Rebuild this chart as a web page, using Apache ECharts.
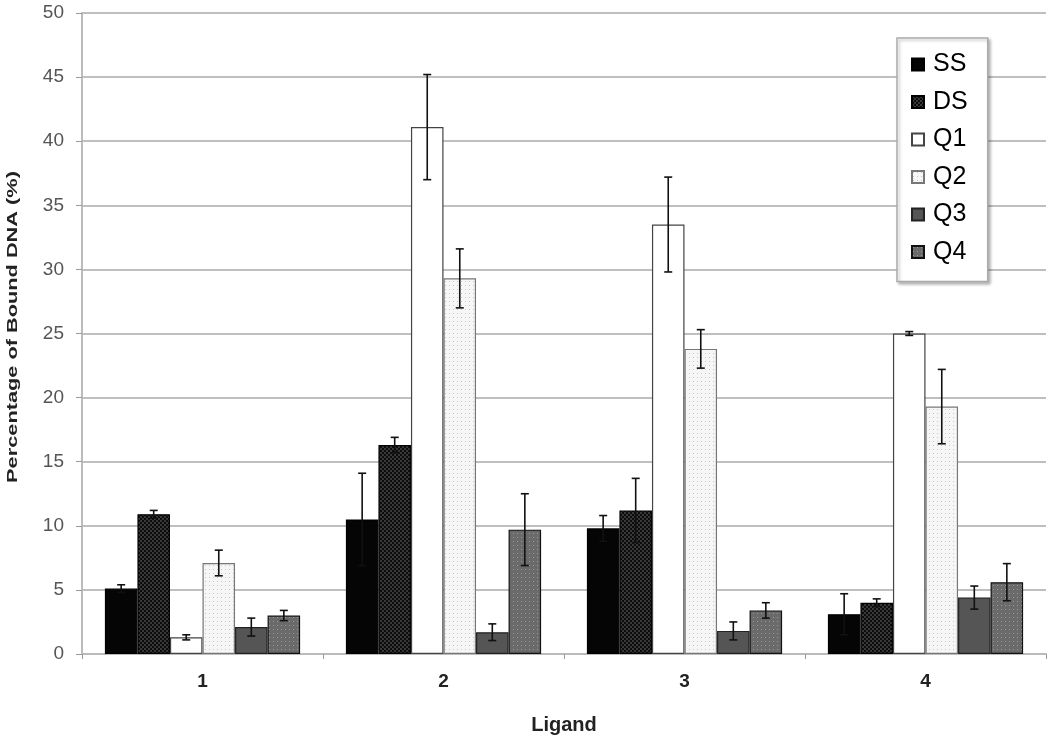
<!DOCTYPE html>
<html>
<head>
<meta charset="utf-8">
<script src="https://cdn.jsdelivr.net/npm/echarts@6/dist/echarts.min.js"></script>
<style>html,body{margin:0;padding:0;background:#fff}#main{width:1050px;height:744px}</style>
</head>
<body>
<div id="main"></div>
<script>
const categories = ['1', '2', '3', '4'];
const seriesNames = ['SS', 'DS', 'Q1', 'Q2', 'Q3', 'Q4'];
const ssValues = [5.1, 10.5, 9.8, 3.1];
const ssErrors = [0.3, 3.6, 1.0, 1.6];
const dsValues = [10.9, 16.3, 11.2, 4.0];
const dsErrors = [0.3, 0.6, 2.5, 0.3];
const q1Values = [1.3, 41.1, 33.5, 25.0];
const q1Errors = [0.2, 4.1, 3.7, 0.15];
const q2Values = [7.1, 29.3, 23.8, 19.3];
const q2Errors = [1.0, 2.3, 1.5, 2.9];
const q3Values = [2.1, 1.7, 1.8, 4.4];
const q3Errors = [0.7, 0.65, 0.7, 0.9];
const q4Values = [3.0, 9.7, 3.4, 5.6];
const q4Errors = [0.4, 2.8, 0.6, 1.45];
const yTicks = [0, 5, 10, 15, 20, 25, 30, 35, 40, 45, 50];
const yTitle = 'Percentage of Bound DNA (%)';
const xTitle = 'Ligand';

const allValues = [ssValues, dsValues, q1Values, q2Values, q3Values, q4Values];
const allErrors = [ssErrors, dsErrors, q1Errors, q2Errors, q3Errors, q4Errors];

function pattern(bg, fg, kind) {
  const c = document.createElement('canvas');
  const s = 4;
  c.width = s; c.height = s;
  const ctx = c.getContext('2d');
  ctx.fillStyle = bg; ctx.fillRect(0, 0, s, s);
  ctx.fillStyle = fg;
  if (kind === 'check') {
    ctx.fillRect(0, 0, 2, 2); ctx.fillRect(2, 2, 2, 2);
  } else {
    ctx.fillRect(1, 1, 1, 1);
  }
  return { image: c, repeat: 'repeat' };
}

const fills = [
  '#050505',
  pattern('#0c0c0c', '#383838', 'check'),
  '#ffffff',
  pattern('#f6f6f6', '#c8c8c8', 'dot'),
  '#555555',
  pattern('#6a6a6a', '#9a9a9a', 'dot')
];
const borders = ['#000', '#000', '#444', '#777', '#222', '#111'];

const gapRatio = 0.19;
const font = 'Liberation Sans, Arial, sans-serif';

const barSeries = seriesNames.map((name, i) => ({
  name: name,
  type: 'bar',
  data: allValues[i],
  barGap: '0%',
  barCategoryGap: (gapRatio * 100) + '%',
  itemStyle: { color: fills[i], borderColor: borders[i], borderWidth: 1.2 },
  emphasis: { disabled: true },
  z: 2
}));

const errData = [];
seriesNames.forEach((n, si) => {
  categories.forEach((c, ci) => {
    errData.push([ci, allValues[si][ci], allErrors[si][ci], si]);
  });
});

const errSeries = {
  type: 'custom',
  name: 'err',
  z: 5,
  silent: true,
  data: errData,
  encode: { x: 0, y: 1 },
  renderItem: function (params, api) {
    const ci = api.value(0), v = api.value(1), e = api.value(2), si = api.value(3);
    const c = api.coord([ci, v]);
    const W = api.size([1, 0])[0];
    const gw = W * (1 - gapRatio);
    const bw = gw / 6;
    const cx = c[0] - gw / 2 + (si + 0.5) * bw;
    const top = api.coord([ci, v + e])[1];
    const bot = api.coord([ci, v - e])[1];
    const hw = 4;
    const st = { stroke: '#111', lineWidth: 1.6 };
    return {
      type: 'group',
      children: [
        { type: 'line', shape: { x1: cx, y1: top, x2: cx, y2: bot }, style: st },
        { type: 'line', shape: { x1: cx - hw, y1: top, x2: cx + hw, y2: top }, style: st },
        { type: 'line', shape: { x1: cx - hw, y1: bot, x2: cx + hw, y2: bot }, style: st }
      ]
    };
  }
};

const chart = echarts.init(document.getElementById('main'));
chart.setOption({
  animation: false,
  backgroundColor: '#fff',
  grid: { left: 82, right: 4, top: 13, bottom: 90, containLabel: false, outerBoundsMode: 'none' },
  legend: {
    data: seriesNames,
    orient: 'vertical',
    left: 897,
    top: 38,
    padding: [14, 20, 17, 14],
    itemGap: 12.5,
    itemWidth: 12,
    itemHeight: 12,
    icon: 'rect',
    backgroundColor: '#fff',
    borderColor: '#aaa',
    borderWidth: 1.5,
    shadowColor: 'rgba(0,0,0,0.25)',
    shadowBlur: 3,
    shadowOffsetX: 2,
    shadowOffsetY: 2,
    textStyle: { fontFamily: font, fontSize: 25, lineHeight: 25, color: '#000', padding: [0, 0, 0, 4] },
    selectedMode: false
  },
  graphic: [{
    type: 'text',
    x: 13,
    y: 327,
    rotation: Math.PI / 2,
    scaleX: 1.45,
    silent: true,
    style: {
      text: yTitle,
      font: 'bold 15px ' + font,
      fill: '#222',
      align: 'center',
      verticalAlign: 'middle'
    }
  }],
  xAxis: {
    type: 'category',
    data: categories,
    name: xTitle,
    nameLocation: 'middle',
    nameGap: 61,
    nameTextStyle: { fontFamily: font, fontSize: 20, fontWeight: 'bold', color: '#222' },
    axisLine: { lineStyle: { color: '#bbb', width: 2 } },
    axisTick: { show: true, length: 5, lineStyle: { color: '#999' } },
    axisLabel: { fontFamily: font, fontSize: 19, fontWeight: 'bold', color: '#222', margin: 18 }
  },
  yAxis: {
    type: 'value',
    min: yTicks[0],
    max: yTicks[yTicks.length - 1],
    interval: 5,
    axisLine: { show: true, lineStyle: { color: '#bbb', width: 2 } },
    axisTick: { show: true, length: 6, lineStyle: { color: '#999' } },
    axisLabel: { fontFamily: font, fontSize: 19, color: '#555', margin: 18 },
    splitLine: { lineStyle: { color: '#aaa', width: 1.5 } }
  },
  series: barSeries.concat([errSeries])
});
</script>
</body>
</html>
